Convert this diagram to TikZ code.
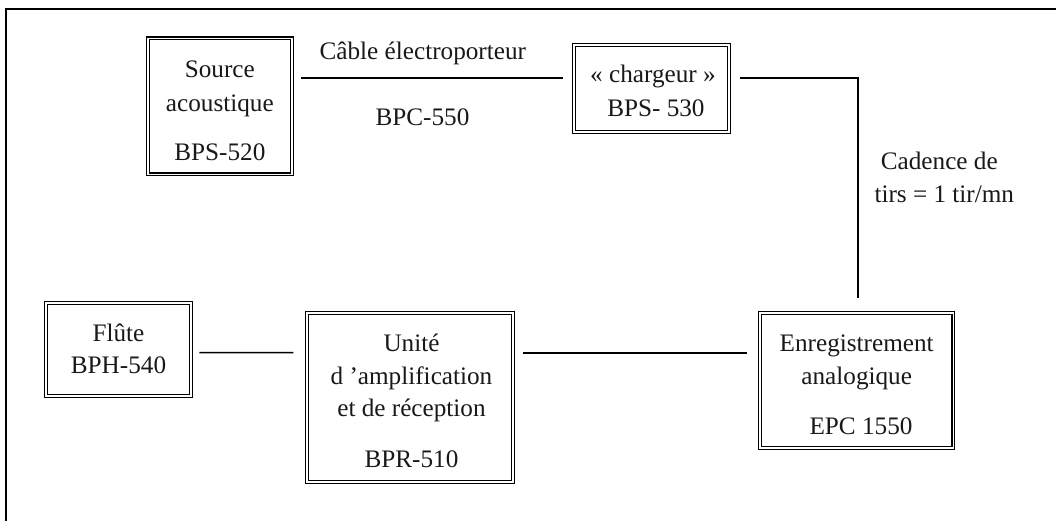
\documentclass[tikz,border=0pt]{standalone}
\usepackage{fontspec}
\setmainfont{Liberation Serif}
\newcommand{\padtop}[1]{\rule{0pt}{#1pt}}
\newcommand{\padbot}[1]{\rule[-#1pt]{0pt}{#1pt}}
\begin{document}
\begin{tikzpicture}[x=1pt,y=-1pt,
  dbox/.style={draw=black,line width=1.1pt,double=white,double distance=1.8pt,align=center,inner sep=0pt,
    font=\fontsize{25.2}{33}\selectfont,text=black!90},
  lbl/.style={align=center,inner sep=0pt,font=\fontsize{25.2}{33}\selectfont,text=black!90},
  wire/.style={draw=black,line width=2pt},
  thinwire/.style={draw=black,line width=1.5pt},
  framing/.style={draw=black,line width=2pt}]
\useasboundingbox (0,0) rectangle (1056,521);
\fill[white] (0,0) rectangle (1056,521);
\coordinate (fb) at (6,521);
\coordinate (fc) at (6,9);
\coordinate (fr) at (1056,9);
\draw[framing] (fb) -- (fc) -- (fr);
\node[dbox,minimum width=144.3pt,minimum height=136pt] (src) at (219.85,106.5) {\padtop{25.7}Source\\[0.7pt]acoustique\\[16pt]BPS-520};
\node[dbox,minimum width=155.7pt,minimum height=86.7pt] (chg) at (651.45,88.65) {\padtop{22.1}\hspace*{3pt}« chargeur »\\[1pt]\hspace*{9pt}BPS- 530};
\node[dbox,minimum width=144.4pt,minimum height=93pt] (flu) at (118.5,349.5) {Flûte\\[-1pt]BPH-540\padbot{2.2}};
\node[dbox,minimum width=206pt,minimum height=169.3pt] (uni) at (410,397.35) {\padtop{25.3}\hspace*{3pt}Unité\\\hspace*{3pt}d ’amplification\\[-1.3pt]\hspace*{3pt}et de réception\\[18.3pt]\hspace*{3pt}BPR-510};
\node[dbox,minimum width=193.4pt,minimum height=135.3pt] (enr) at (856.7,380.35) {\padtop{26.3}Enregistrement\\analogique\\[17pt]\hspace*{8.6pt}EPC 1550};
\node[lbl,anchor=base] (cab) at (422.8,60) {Câble électroporteur};
\node[lbl,anchor=base] (bpc) at (422.5,126) {BPC-550};
\node[lbl] (cad) at (944.3,177.85) {\hspace*{-10pt}Cadence de\\tirs = 1 tir/mn};
\draw[wire] ([xshift=8.7pt,yshift=28.5pt]src.east) -- ([xshift=-10pt,yshift=10.65pt]chg.west);
\draw[wire] ([xshift=10.4pt,yshift=10.65pt]chg.east) -| ([xshift=1.1pt,yshift=13.7pt]enr.north);
\draw[thinwire] ([xshift=8pt,yshift=-3.2pt]flu.east) -- ([xshift=-13pt,yshift=44.65pt]uni.west);
\draw[wire] ([xshift=9.3pt,yshift=44.65pt]uni.east) -- ([xshift=-12pt,yshift=27.65pt]enr.west);
\end{tikzpicture}
\end{document}
